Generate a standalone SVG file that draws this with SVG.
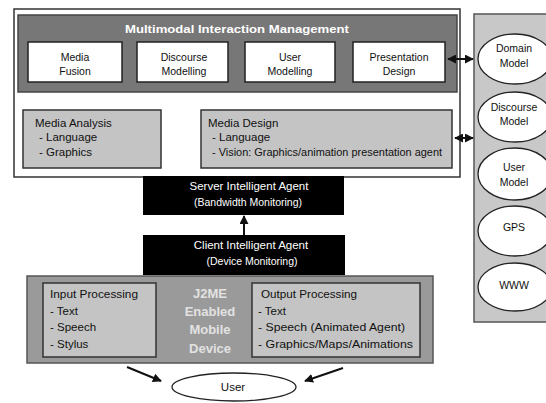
<svg xmlns="http://www.w3.org/2000/svg" width="546" height="403" viewBox="0 0 546 403">
<defs>
<style>
text{font-family:"Liberation Sans",Arial,sans-serif;font-size:11.5px;fill:#111}
.c{text-anchor:middle}
.s{font-size:10.5px}
.w{fill:#fff}
.j{fill:#e2e2e2;font-weight:bold;font-size:13px}
.box{fill:#fff;stroke:#222;stroke-width:1.5}
.gbox{fill:#c4c4c4;stroke:#333;stroke-width:1.5}
.blk{fill:#000}
.ell{fill:#fff;stroke:#222;stroke-width:1.3}
.conn{stroke:#111;stroke-width:2;fill:none}
</style>
<marker id="ah" viewBox="0 0 10 10" refX="9" refY="5" markerWidth="4.5" markerHeight="4.5" orient="auto-start-reverse"><path d="M0,0 L10,5 L0,10 z" fill="#111"/></marker>
</defs>
<rect width="546" height="403" fill="#fff"/>
<g id="outer">
<rect x="14" y="9" width="446" height="168" fill="#fff" stroke="#333" stroke-width="1.5"/>
</g>
<g id="mim">
<rect x="18" y="15" width="439" height="77" fill="#777" stroke="#444" stroke-width="1.5"/>
<text x="237" y="33" class="c w" font-weight="bold" font-size="13.5" textLength="224" lengthAdjust="spacingAndGlyphs">Multimodal Interaction Management</text>
</g>
<g id="media-fusion"><rect x="28" y="42" width="94" height="40" class="box"/><text x="75" y="61" class="c s">Media</text><text x="75" y="75" class="c s">Fusion</text></g>
<g id="discourse-modelling"><rect x="137" y="42" width="91" height="40" class="box"/><text x="184" y="61" class="c s">Discourse</text><text x="184" y="75" class="c s">Modelling</text></g>
<g id="user-modelling"><rect x="245" y="42" width="90" height="40" class="box"/><text x="290" y="61" class="c s">User</text><text x="290" y="75" class="c s">Modelling</text></g>
<g id="presentation-design"><rect x="353" y="42" width="92" height="40" class="box"/><text x="399" y="61" class="c s">Presentation</text><text x="399" y="75" class="c s">Design</text></g>
<g id="media-analysis"><rect x="23" y="110" width="138" height="58" class="gbox"/><text x="35" y="127">Media Analysis</text><text x="39" y="141">- Language</text><text x="39" y="156">- Graphics</text></g>
<g id="media-design"><rect x="201" y="110" width="251" height="58" class="gbox"/><text x="208" y="127">Media Design</text><text x="212" y="141">- Language</text><text x="212" y="156" textLength="230" lengthAdjust="spacingAndGlyphs">- Vision: Graphics/animation presentation agent</text></g>
<g id="knowledge-panel">
<rect x="474" y="14" width="80" height="308" fill="#c8c8c8" stroke="#555" stroke-width="1.5"/>
</g>
<g id="domain-model"><ellipse cx="515" cy="59" rx="37" ry="25" class="ell"/><text x="514" y="52" class="c s">Domain</text><text x="514" y="67" class="c s">Model</text></g>
<g id="discourse-model"><ellipse cx="515" cy="117" rx="37" ry="25" class="ell"/><text x="514" y="111" class="c s">Discourse</text><text x="514" y="125" class="c s">Model</text></g>
<g id="user-model"><ellipse cx="515" cy="174" rx="37" ry="26" class="ell"/><text x="514" y="171" class="c s">User</text><text x="514" y="186" class="c s">Model</text></g>
<g id="gps"><ellipse cx="515" cy="231" rx="37" ry="25" class="ell"/><text x="514" y="231" class="c s">GPS</text></g>
<g id="www"><ellipse cx="515" cy="287" rx="37" ry="24" class="ell"/><text x="514" y="289" class="c s">WWW</text></g>
<g id="server-agent"><rect x="143" y="176" width="201" height="39" class="blk"/><text x="249" y="190" class="c w">Server Intelligent Agent</text><text x="248" y="206" class="c w s">(Bandwidth Monitoring)</text></g>
<g id="client-agent"><rect x="143" y="235" width="202" height="40" class="blk"/><text x="251" y="249" class="c w">Client Intelligent Agent</text><text x="252" y="265" class="c w s">(Device Monitoring)</text></g>
<g id="mobile-device">
<rect x="27" y="276" width="406" height="87" fill="#9a9a9a" stroke="#555" stroke-width="1.5"/>
<text x="210" y="298" class="c j">J2ME</text>
<text x="210" y="316" class="c j">Enabled</text>
<text x="210" y="334" class="c j">Mobile</text>
<text x="210" y="353" class="c j">Device</text>
</g>
<g id="input-processing"><rect x="43" y="283" width="113" height="74" class="gbox"/><text x="50" y="298" textLength="88" lengthAdjust="spacingAndGlyphs">Input Processing</text><text x="50" y="315">- Text</text><text x="50" y="331">- Speech</text><text x="50" y="348">- Stylus</text></g>
<g id="output-processing"><rect x="252" y="283" width="168" height="74" class="gbox"/><text x="261" y="298" textLength="96" lengthAdjust="spacingAndGlyphs">Output Processing</text><text x="258" y="315">- Text</text><text x="258" y="331" textLength="147" lengthAdjust="spacingAndGlyphs">- Speech (Animated Agent)</text><text x="258" y="348" textLength="155" lengthAdjust="spacingAndGlyphs">- Graphics/Maps/Animations</text></g>
<g id="user"><ellipse cx="234" cy="387" rx="62" ry="14" class="ell"/><text x="233" y="391" class="c">User</text></g>
<g id="connectors">
<line x1="448" y1="59" x2="473" y2="59" class="conn" marker-start="url(#ah)" marker-end="url(#ah)"/>
<line x1="455" y1="138" x2="473" y2="138" class="conn" marker-start="url(#ah)" marker-end="url(#ah)"/>
<line x1="244" y1="235" x2="244" y2="216" class="conn" marker-end="url(#ah)"/>
<line x1="127" y1="367" x2="161" y2="381" class="conn" marker-end="url(#ah)"/>
<line x1="343" y1="368" x2="305" y2="381" class="conn" marker-end="url(#ah)"/>
</g>
</svg>
